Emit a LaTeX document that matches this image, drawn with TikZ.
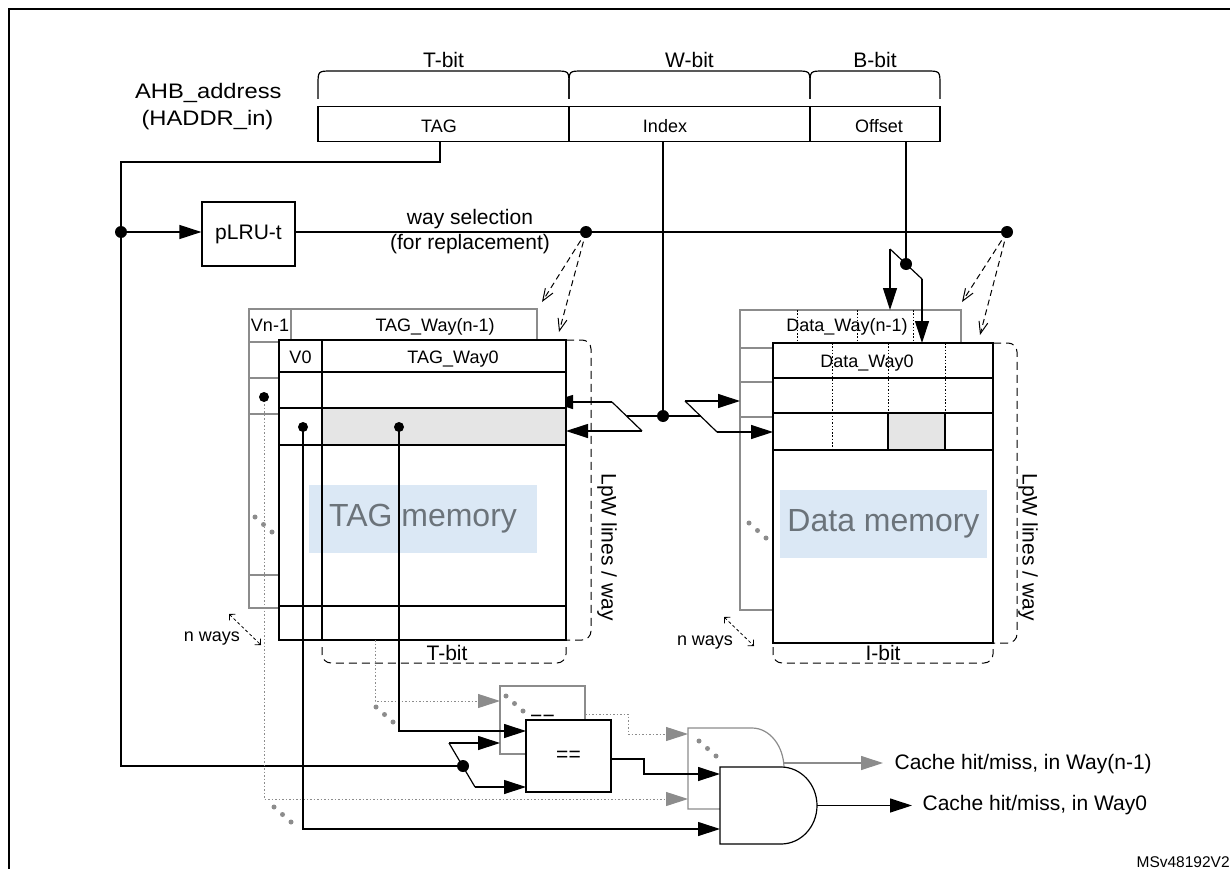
\documentclass[tikz,border=0pt]{standalone}
\usepackage{fontspec}
\setmainfont{Liberation Sans}
\newfontfamily\wideFont[FakeStretch=1.13]{Liberation Sans}
\usepackage{tikz}
\usetikzlibrary{arrows.meta}
\definecolor{backC}{rgb}{0.55,0.55,0.55}
\definecolor{hitC}{rgb}{0.9,0.9,0.9}
\definecolor{memC}{rgb}{0.86,0.91,0.96}
\definecolor{memT}{rgb}{0.42,0.45,0.48}

\begin{document}
\begin{tikzpicture}[x=1pt,y=-1pt,line width=1.2pt,
  >={Triangle[length=22pt,width=14pt]},
  txtL/.style={font=\fontsize{21}{24}\selectfont,inner sep=0pt,anchor=base},
  txtS/.style={font=\fontsize{18}{21}\selectfont,inner sep=0pt,anchor=base},
  blk/.style={draw,fill=white,inner sep=0pt},
  backBlk/.style={draw=backC,fill=white,inner sep=0pt},
  memBox/.style={fill=memC,text=memT,inner sep=0pt,font=\fontsize{32}{36}\selectfont},
  bracketD/.style={dash pattern=on 8pt off 5pt,line width=1pt,rounded corners=9pt},
  selArr/.style={dash pattern=on 6pt off 4pt,line width=1pt,-{Straight Barb[length=12pt,width=9pt]}},
  nwArr/.style={dash pattern=on 3pt off 2.5pt,line width=0.8pt,{Straight Barb[angle=90:6pt]}-{Straight Barb[angle=90:6pt]}},
  wayDot/.style={backC,dash pattern=on 1.5pt off 2pt,line width=1pt},
  colDot/.style={dash pattern=on 1.5pt off 1.8pt,line width=1pt}]
        \newcommand\bitBrace[4]{\draw (#1,99) -- (#1,85) .. controls (#1,71) .. (#1+14,71) -- (#2-14,71) .. controls (#2,71) .. (#2,85) -- (#2,99); \node[txtL] (#3) at ({(#1+#2)/2},67.3) {#4}}
        \newcommand\moreWays[1]{\fill[fill=backC,shift={#1}] (0,0) circle (2.5) (8.5,7.5) circle (2.5) (17,15) circle (2.5)}
        \newcommand\junct[2]{\fill (#1) circle (#2)}
        \useasboundingbox (0,0) rectangle (1230,869);
        \fill[white] (0,0) rectangle (1230,869);
        \clip (0,0) rectangle (1230,869);
        \draw[line width=2pt] (8.7,9.3) rectangle (1250,890);
        % address fields
        \node[blk,minimum width=251pt,minimum height=35pt] (tagF) at (443.5,124.2) {};
        \node[blk,minimum width=241pt,minimum height=35pt] (idxF) at (689.5,124.2) {};
        \node[blk,minimum width=130pt,minimum height=35pt] (offF) at (875,124.2) {};
        \node[txtS] (tagL) at (439,132.3) {TAG};
        \node[txtS] (idxL) at (665,132.3) {Index};
        \node[txtS] (offL) at (879,132.3) {Offset};
        \bitBrace{318}{569}{tbitL}{T-bit};
        \bitBrace{569}{810}{wbitL}{W-bit};
        \bitBrace{810}{940}{bbitL}{B-bit};
        \node[txtL,font=\wideFont\fontsize{21}{24}\selectfont] (ahbL) at (208.3,98.3) {AHB\_address};
        \node[txtL,font=\wideFont\fontsize{21}{24}\selectfont] (haddrL) at (207.5,125.3) {(HADDR\_in)};
        \node[blk,minimum width=93pt,minimum height=64pt,font=\fontsize{21}{24}\selectfont] (plru) at (248.5,234) {pLRU-t};
        \node[txtL] (wsA) at (470,224) {way selection};
        \node[txtL] (wsB) at (470,249.3) {(for replacement)};
        % named points
        \coordinate (tagOut) at (440,141.7);
        \coordinate (tagBend) at (121,162);
        \coordinate (busL) at (121,232);
        \coordinate (selL) at (586,232);
        \coordinate (selR) at (1007,232);
        \coordinate (selLa) at (542,302);
        \coordinate (selLb) at (559,332);
        \coordinate (selRa) at (962,302);
        \coordinate (selRb) at (980,335);
        \coordinate (idxOut) at (663,141.7);
        \coordinate (idxJ) at (663,416);
        \coordinate (lmA) at (612,402);
        \coordinate (lmB) at (642,431);
        \coordinate (lmM) at (627,416);
        \coordinate (rmA) at (685,401);
        \coordinate (rmB) at (717,432);
        \coordinate (rmM) at (701,416);
        \coordinate (tagBackIn) at (551,402);
        \coordinate (tagIn) at (566,431);
        \coordinate (dataBackIn) at (740,401);
        \coordinate (dataIn) at (773,432);
        \coordinate (offOut) at (906,141.7);
        \coordinate (offJ) at (906,264);
        \coordinate (offA) at (890,249);
        \coordinate (offB) at (922,279);
        \coordinate (dataBackTop) at (890,310);
        \coordinate (dataTop) at (922,343);
        \coordinate (vBackDot) at (264,397);
        \coordinate (v0Dot) at (303,427);
        \coordinate (tagDot) at (399,427);
        \coordinate (tagBackOut) at (375,640);
        \coordinate (cmpBend) at (121,766);
        \coordinate (cmpJ) at (463,766);
        \coordinate (cjA) at (449,743);
        \coordinate (cjB) at (475,787);
        \coordinate (cmpBin1) at (500,701);
        \coordinate (cmpBin2) at (500,743);
        \coordinate (cmpFin1) at (526,731);
        \coordinate (cmpFin2) at (526,787);
        \coordinate (cmpBout) at (585,714);
        \coordinate (cmpBbend) at (628,714);
        \coordinate (cmpFout) at (611,759);
        \coordinate (cmpFbend) at (644,759);
        \coordinate (andB1) at (688,734);
        \coordinate (andB2) at (688,799);
        \coordinate (andBout) at (784,763);
        \coordinate (andF1) at (720,774);
        \coordinate (andF2) at (720,829);
        \coordinate (andFout) at (817,805.5);
        % TAG memory, way n-1
        \filldraw[draw=backC,fill=white] (249,309) rectangle (537,608);
        \draw[backC] (291,309) -- (291,342) (249,342) -- (537,342) (249,378) -- (279,378) (249,414) -- (279,414) (249,575) -- (279,575);
        \node[txtS] (vnL) at (270,331.7) {Vn-1};
        \node[txtS] (tagWnL) at (435,331.7) {TAG\_Way(n-1)};
        \moreWays{(255,517)};
        \draw[->] (lmA) -- (tagBackIn);
        % TAG memory, way 0
        \filldraw[fill=white] (279,340) rectangle (566,640);
        \fill[hitC] (322.6,408.6) rectangle (565.4,444.4);
        \node[memBox,minimum width=228pt,minimum height=68pt] (tagMem) at (423,519) {TAG memory};
        \draw (279,372) -- (566,372) (279,408) -- (566,408) (279,445) -- (566,445) (279,606) -- (566,606) (322,340) -- (322,640);
        \node[txtS] (v0L) at (300.5,363.3) {V0};
        \node[txtS] (tagW0L) at (453,363.3) {TAG\_Way0};
        \draw[bracketD] (566,340) -- (591,340) -- (591,640) -- (566,640);
        \draw[bracketD] (322,647) -- (322,663) -- (566,663) -- (566,647);
        \node[font=\fontsize{21}{24}\selectfont,inner sep=0pt,rotate=-90] (lpwT) at (607,547) {LpW lines / way};
        \node[txtL] (tbitT) at (447,660) {T-bit};
        \node[txtS] (nwT) at (212,641.7) {n ways};
        \draw[nwArr] (229,614) -- (261,645);
        % Data memory, way n-1
        \filldraw[draw=backC,fill=white] (740,310) rectangle (961,610);
        \draw[backC] (740,348) -- (773,348) (740,382) -- (773,382) (740,417) -- (773,417);
        \draw[colDot] (797,310) -- (797,343) (857,310) -- (857,343) (913,310) -- (913,343);
        \node[txtS] (dataWnL) at (847,331.7) {Data\_Way(n-1)};
        \moreWays{(749,523)};
        % Data memory, way 0
        \filldraw[fill=white] (773,343) rectangle (993,643);
        \draw (773,378) -- (993,378) (773,413) -- (993,413) (773,450) -- (993,450);
        \draw[colDot] (832,343) -- (832,450) (888,343) -- (888,413) (945,343) -- (945,450);
        \filldraw[fill=hitC] (888,413) rectangle (945,450);
        \node[txtS] (dataW0L) at (867,367.7) {Data\_Way0};
        \node[memBox,minimum width=207pt,minimum height=68pt] (dataMem) at (883.5,524) {Data memory};
        \draw[bracketD] (993,343) -- (1017,343) -- (1017,643) -- (993,643);
        \draw[bracketD] (773,647) -- (773,663) -- (993,663) -- (993,647);
        \node[font=\fontsize{21}{24}\selectfont,inner sep=0pt,rotate=-90] (lpwD) at (1028,547) {LpW lines / way};
        \node[txtL] (ibitD) at (883,660) {I-bit};
        \node[txtS] (nwD) at (705,645) {n ways};
        \draw[nwArr] (724,617) -- (754,646);
        % compare and hit logic
        \node[backBlk,minimum width=85pt,minimum height=68pt,font=\fontsize{21}{24}\selectfont] (cmpB) at (542.5,720) {==};
        \moreWays{(506,696)};
        \node[blk,minimum width=85pt,minimum height=72pt,font=\fontsize{21}{24}\selectfont] (cmpF) at (568.5,756) {==};
        \filldraw[draw=backC,fill=white] (688,728) -- (752,728) arc[start angle=-90,end angle=90,x radius=32,y radius=40.5] -- (688,809) -- cycle;
        \moreWays{(699,741)};
        \filldraw[fill=white] (720,767) -- (781,767) arc[start angle=-90,end angle=90,x radius=36,y radius=38.5] -- (720,844) -- cycle;
        \node[txtL,anchor=base west] (hitB) at (894,769) {Cache hit/miss, in Way(n-1)};
        \node[txtL,anchor=base west] (hitF) at (922,810.7) {Cache hit/miss, in Way0};
        \node[font=\fontsize{15.5}{18}\selectfont,inner sep=0pt,anchor=base west] (docId) at (1136,867.3) {MSv48192V2};
        % wires
        \draw (tagOut) |- (tagBend) -- (busL) -- (cmpBend) -- (cmpJ);
        \draw[->] (busL) -- (busL -| plru.west);
        \draw (busL -| plru.east) -- (selL) -- (selR);
        \draw[selArr] (selL) -- (selLa);
        \draw[selArr] (selL) -- (selLb);
        \draw[selArr] (selR) -- (selRa);
        \draw[selArr] (selR) -- (selRb);
        \draw (idxOut) -- (idxJ);
        \draw (lmM) -- (idxJ) -- (rmM);
        \draw (lmA) -- (lmB);
        \draw[->] (lmB) -- (tagIn);
        \draw (rmA) -- (rmB);
        \draw[->] (rmA) -- (dataBackIn);
        \draw[->] (rmB) -- (dataIn);
        \draw (offOut) -- (offJ);
        \draw (offA) -- (offB);
        \draw[->] (offA) -- (dataBackTop);
        \draw[->] (offB) -- (dataTop);
        \draw[wayDot,-{Triangle[length=22pt,width=14pt,fill=backC]}] (vBackDot) |- (andB2);
        \draw[wayDot,-{Triangle[length=22pt,width=14pt,fill=backC]}] (tagBackOut) |- (cmpBin1);
        \draw[wayDot,-{Triangle[length=22pt,width=14pt,fill=backC]}] (cmpBout) -- (cmpBbend) |- (andB1);
        \moreWays{(376,707)};
        \moreWays{(274,807)};
        \draw[->] (v0Dot) |- (andF2);
        \draw[->] (tagDot) |- (cmpFin1);
        \draw (cjA) -- (cjB);
        \draw[->] (cjA) -- (cmpBin2);
        \draw[->] (cjB) -- (cmpFin2);
        \draw[->] (cmpFout) -- (cmpFbend) |- (andF1);
        \draw[backC,->,shorten >=11pt] (andBout) -- (andBout -| hitB.west);
        \draw[->,shorten >=10pt] (andFout) -- (andFout -| hitF.west);
        \junct{busL}{6};
        \junct{selL}{6};
        \junct{selR}{6};
        \junct{idxJ}{6};
        \junct{offJ}{6};
        \junct{cmpJ}{6};
        \junct{vBackDot}{5};
        \junct{v0Dot}{5};
        \junct{tagDot}{5};
        \end{tikzpicture}
\end{document}
